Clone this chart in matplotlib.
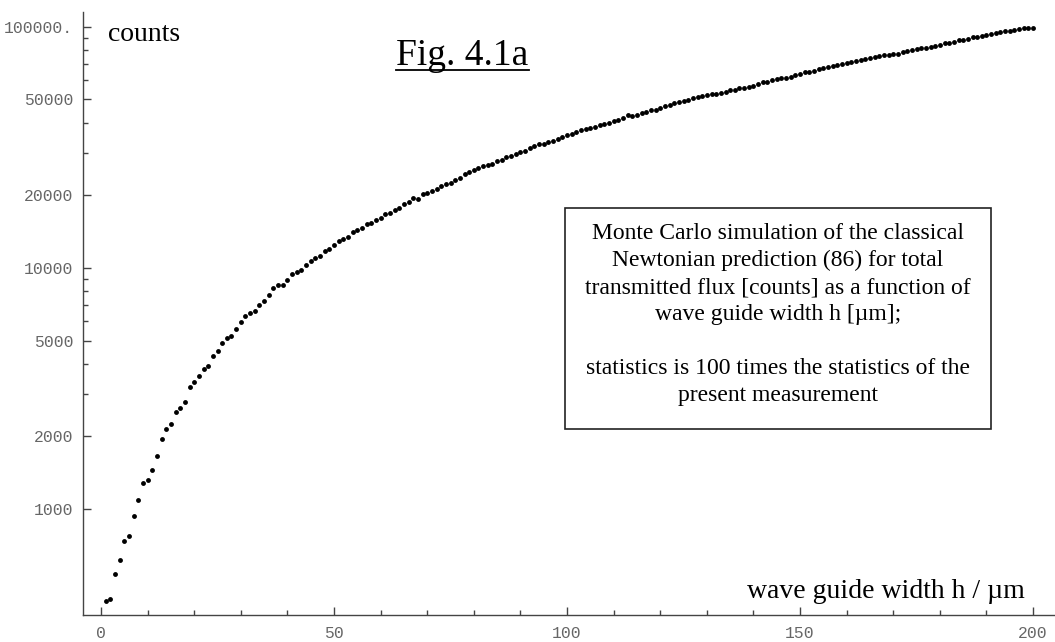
import matplotlib
matplotlib.use("Agg")
import matplotlib.pyplot as plt
from matplotlib.ticker import FixedLocator, NullFormatter
from matplotlib.patches import Rectangle
from matplotlib.lines import Line2D

# wave guide width h [um]
width_um = list(range(1, 201))

# simulated counts
counts = [
    415, 425, 537, 614, 735, 774, 935, 1090, 1282, 1323,
    1448, 1660, 1959, 2148, 2259, 2535, 2633, 2779, 3199, 3375,
    3563, 3800, 3910, 4303, 4540, 4875, 5145, 5195, 5585, 5970,
    6310, 6530, 6655, 7025, 7295, 7705, 8265, 8480, 8480, 8910,
    9435, 9590, 9840, 10290, 10660, 10970, 11245, 11770, 12030, 12450,
    12970, 13150, 13490, 14150, 14380, 14660, 15230, 15420, 15820, 16070,
    16750, 16960, 17410, 17690, 18370, 18790, 19500, 19320, 20270, 20460,
    20790, 21320, 21950, 22310, 22590, 23180, 23560, 24480, 25000, 25500,
    25920, 26580, 26700, 26920, 27720, 28060, 28780, 29070, 29710, 30150,
    30590, 31390, 31990, 32700, 32600, 33230, 33650, 34280, 35060, 35640,
    36080, 36670, 37270, 37630, 38100, 38460, 39080, 39720, 40090, 40850,
    41250, 41920, 43000, 42730, 43250, 43850, 44400, 45110, 45250, 46240,
    46990, 47600, 48370, 48980, 49320, 49620, 50580, 51050, 51720, 52210,
    52860, 52900, 53210, 53880, 54580, 54600, 55970, 55660, 56530, 57080,
    58000, 59120, 59150, 60090, 61020, 61430, 61450, 62200, 63040, 63640,
    65240, 64860, 65680, 66950, 67400, 68050, 69100, 69560, 70430, 71110,
    71780, 72060, 72750, 73600, 74100, 74870, 75560, 76290, 76400, 77260,
    77480, 78750, 79510, 80040, 80810, 81580, 82130, 82920, 83180, 84400,
    85500, 86000, 86590, 87980, 88500, 89340, 90800, 90550, 91410, 92560,
    93440, 94610, 95510, 95890, 96160, 97350, 97720, 98670, 99240, 99400,
]

y_major = [1000, 2000, 5000, 10000, 20000, 50000, 100000]
y_major_labels = ["1000", "2000", "5000", "10000", "20000", "50000", "100000."]
y_minor = [3000, 4000, 6000, 7000, 8000, 9000,
           30000, 40000, 60000, 70000, 80000, 90000]
x_major = [0, 50, 100, 150, 200]
x_minor = [10, 20, 30, 40, 60, 70, 80, 90, 110, 120, 130, 140,
           160, 170, 180, 190]

box_text = ("Monte Carlo simulation of the classical\n"
            "Newtonian prediction (86) for total\n"
            "transmitted flux [counts] as a function of\n"
            "wave guide width h [\u00b5m];\n"
            "\n"
            "statistics is 100 times the statistics of the\n"
            "present measurement")

W, H = 1055, 642
serif = "Liberation Serif"
mono = "Liberation Mono"
axis_col = "#444444"
label_col = "#666666"


def fx(px):
    return px / W


def fy(py):
    return 1 - py / H


fig = plt.figure(figsize=(W / 100, H / 100), dpi=100)
ax = fig.add_axes([fx(83), fy(615), fx(W - 83), (615 - 12) / H])

ax.plot(width_um, counts, "o", color="black", ms=3.5, mec="none")

ax.set_yscale("log")
ax.set_xlim(-3.86, 204.7)
ax.set_ylim(10 ** 2.56, 10 ** 5.062)

for side in ["top", "right"]:
    ax.spines[side].set_visible(False)
for side in ["left", "bottom"]:
    ax.spines[side].set_color(axis_col)
    ax.spines[side].set_linewidth(1.0)

ax.yaxis.set_major_locator(FixedLocator(y_major))
ax.set_yticklabels(y_major_labels)
ax.yaxis.set_minor_locator(FixedLocator(y_minor))
ax.yaxis.set_minor_formatter(NullFormatter())
ax.xaxis.set_major_locator(FixedLocator(x_major))
ax.set_xticklabels([str(v) for v in x_major])
ax.xaxis.set_minor_locator(FixedLocator(x_minor))

ax.tick_params(which="both", direction="in", color=axis_col, width=1.0)
ax.tick_params(which="major", length=5.5)
ax.tick_params(which="minor", length=3.3)
ax.tick_params(axis="y", which="major", pad=7)
ax.tick_params(axis="x", which="major", pad=8)
for lab in ax.get_xticklabels() + ax.get_yticklabels():
    lab.set_fontfamily(mono)
    lab.set_fontsize(11.8)
    lab.set_color(label_col)

fig.text(fx(108), fy(41), "counts", family=serif, fontsize=20,
         ha="left", va="baseline")
fig.text(fx(462), fy(65), "Fig. 4.1a", family=serif, fontsize=27,
         ha="center", va="baseline")
fig.add_artist(Line2D([fx(396), fx(529)], [fy(70), fy(70)],
                      transform=fig.transFigure, color="black", lw=1.3))
fig.text(fx(1025), fy(598), "wave guide width h / \u00b5m", family=serif,
         fontsize=20, ha="right", va="baseline")

fig.add_artist(Rectangle((fx(565), fy(429)), fx(991 - 565), (429 - 208) / H,
                         transform=fig.transFigure, fill=False,
                         edgecolor="#222222", lw=1.2))
fig.text(fx(778), fy(223), box_text, family=serif, fontsize=17,
         ha="center", va="top", linespacing=1.37)

fig.savefig("out.png", dpi=100)
